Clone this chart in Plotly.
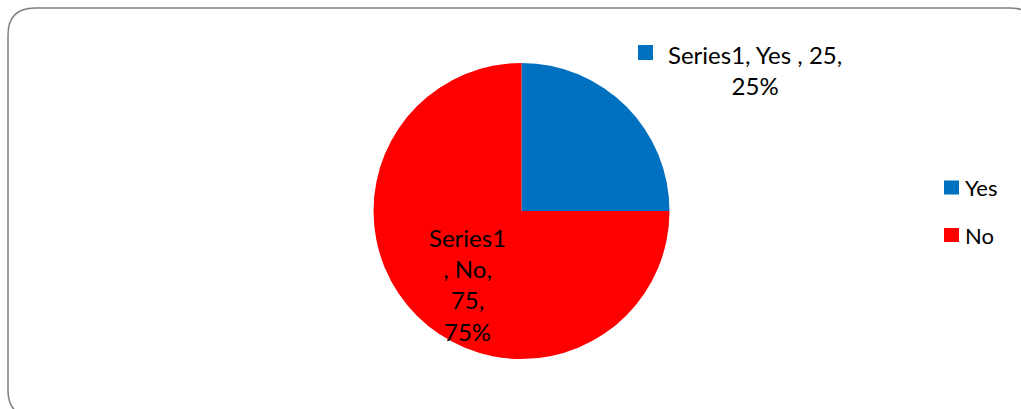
import plotly.graph_objects as go

# ---- data ----
series_name = "Series1"
categories = ["Yes", "No"]
values = [25, 75]
percents = [25, 75]
colors = ["#0070C0", "#FF0000"]

W, H = 1021, 409


def px(x):
    return x / W


def py(y):
    return 1 - y / H


fig = go.Figure()
fig.add_trace(go.Pie(
    labels=categories,
    values=values,
    sort=False,
    direction="clockwise",
    rotation=0,
    marker=dict(colors=colors, line=dict(width=0)),
    textinfo="none",
    hoverinfo="label+value+percent",
    showlegend=False,
    domain=dict(x=[px(373), px(670)], y=[py(359), py(63)]),
))

font_family = "Lato, 'Open Sans', sans-serif"
annotations = []
shapes = []

# data label for Yes (outside, with a colour key square)
yes_text = f"{series_name}, {categories[0]} , {values[0]},<br>{percents[0]}%"
annotations.append(dict(
    x=px(755), y=py(70), xref="paper", yref="paper",
    text=yes_text, showarrow=False, align="center",
    xanchor="center", yanchor="middle",
    font=dict(family=font_family, size=24, color="#000000"),
))
shapes.append(dict(type="rect", xref="paper", yref="paper",
                   x0=px(638), x1=px(653), y0=py(60), y1=py(45),
                   fillcolor=colors[0], line=dict(width=0)))

# data label for No (inside)
no_text = f"{series_name}<br>, {categories[1]},<br>{values[1]},<br>{percents[1]}%"
annotations.append(dict(
    x=px(467), y=py(284), xref="paper", yref="paper",
    text=no_text, showarrow=False, align="center",
    xanchor="center", yanchor="middle",
    font=dict(family=font_family, size=24, color="#000000"),
))

# manual legend
legend_y = [187.5, 235]
for cat, col, ly in zip(categories, colors, legend_y):
    shapes.append(dict(type="rect", xref="paper", yref="paper",
                       x0=px(944), x1=px(959), y0=py(ly + 7), y1=py(ly - 7),
                       fillcolor=col, line=dict(width=0)))
    annotations.append(dict(
        x=px(963), y=py(ly), xref="paper", yref="paper",
        text=cat, showarrow=False, xanchor="left", yanchor="middle",
        font=dict(family=font_family, size=22, color="#000000"),
    ))

# rounded outer border (partly clipped at right/bottom)
x0, y0, x1, y1, r = 8, 8, 1037, 417, 27
path = (
    f"M {px(x0)},{py(y0 + r)} "
    f"Q {px(x0)},{py(y0)} {px(x0 + r)},{py(y0)} "
    f"L {px(x1 - r)},{py(y0)} "
    f"Q {px(x1)},{py(y0)} {px(x1)},{py(y0 + r)} "
    f"L {px(x1)},{py(y1 - r)} "
    f"Q {px(x1)},{py(y1)} {px(x1 - r)},{py(y1)} "
    f"L {px(x0 + r)},{py(y1)} "
    f"Q {px(x0)},{py(y1)} {px(x0)},{py(y1 - r)} Z"
)
shapes.append(dict(type="path", xref="paper", yref="paper", path=path,
                   line=dict(color="#808080", width=1.5), layer="below"))

fig.update_layout(
    width=W, height=H,
    margin=dict(l=0, r=0, t=0, b=0),
    paper_bgcolor="white",
    plot_bgcolor="white",
    annotations=annotations,
    shapes=shapes,
    showlegend=False,
)

fig.write_html("out.html")
